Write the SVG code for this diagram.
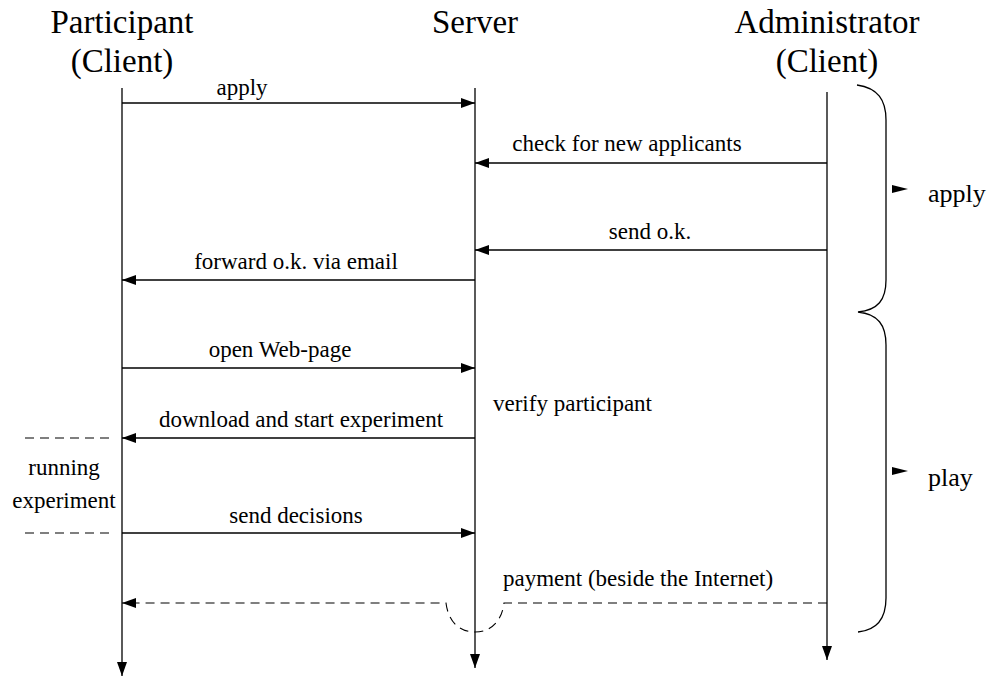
<svg xmlns="http://www.w3.org/2000/svg" width="989" height="677" viewBox="0 0 989 677">
<defs>
<style>
.t{font-family:"Liberation Serif","Times New Roman",serif;fill:#000}
.title{font-size:33px;text-anchor:middle}
.lbl{font-size:23px}
.side{font-size:26px}
.mid{text-anchor:middle}
.ln{stroke:#000;stroke-width:1.3;fill:none}
.ds{stroke:#000;stroke-width:1.1;fill:none;stroke-dasharray:9,6}
</style>
<marker id="ah" viewBox="0 0 14 10" refX="14" refY="5" markerWidth="14" markerHeight="10" markerUnits="userSpaceOnUse" orient="auto">
<path d="M0,0 L14,5 L0,10 Z" fill="#000"/>
</marker>
</defs>
<rect width="989" height="677" fill="#fff"/>
<g id="participant">
<text class="t title" x="122" y="33">Participant</text>
<text class="t title" x="122" y="72">(Client)</text>
<line class="ln" x1="122" y1="88" x2="122" y2="676" marker-end="url(#ah)"/>
</g>
<g id="server">
<text class="t title" x="475" y="33">Server</text>
<line class="ln" x1="475" y1="88" x2="475" y2="668" marker-end="url(#ah)"/>
</g>
<g id="administrator">
<text class="t title" x="827" y="33">Administrator</text>
<text class="t title" x="827" y="72">(Client)</text>
<line class="ln" x1="827" y1="92" x2="827" y2="660" marker-end="url(#ah)"/>
</g>
<g id="running">
<line class="ds" x1="25" y1="438" x2="112" y2="438"/>
<line class="ds" x1="25" y1="533" x2="112" y2="533"/>
<text class="t lbl mid" x="64" y="475">running</text>
<text class="t lbl mid" x="64" y="508">experiment</text>
</g>
<g id="phases">
<path class="ln" d="M857,85 C878,88 886,100 886,120 L886,280 C886,300 878,310 858,312 C878,314 886,325 886,345 L886,598 C886,618 878,630 858,632"/>
<path d="M892,185 L908,189 L892,193 Z" fill="#000"/>
<path d="M892,467 L908,471 L892,475 Z" fill="#000"/>
<text class="t side" x="928" y="202">apply</text>
<text class="t side" x="928" y="486">play</text>
</g>
<g id="connectors">
<line class="ln" x1="122" y1="103" x2="475" y2="103" marker-end="url(#ah)"/>
<text class="t lbl mid" x="242" y="95">apply</text>
<line class="ln" x1="827" y1="163" x2="475" y2="163" marker-end="url(#ah)"/>
<text class="t lbl mid" x="627" y="151">check for new applicants</text>
<line class="ln" x1="827" y1="250" x2="475" y2="250" marker-end="url(#ah)"/>
<text class="t lbl mid" x="650" y="239">send o.k.</text>
<line class="ln" x1="475" y1="280" x2="122" y2="280" marker-end="url(#ah)"/>
<text class="t lbl mid" x="296" y="269">forward o.k. via email</text>
<line class="ln" x1="122" y1="368" x2="475" y2="368" marker-end="url(#ah)"/>
<text class="t lbl mid" x="280" y="357">open Web-page</text>
<text class="t lbl" x="493" y="411">verify participant</text>
<line class="ln" x1="475" y1="438" x2="122" y2="438" marker-end="url(#ah)"/>
<text class="t lbl mid" x="301" y="427">download and start experiment</text>
<line class="ln" x1="122" y1="533" x2="475" y2="533" marker-end="url(#ah)"/>
<text class="t lbl mid" x="296" y="523">send decisions</text>
<path class="ds" d="M827,603 L504,603 C502,620 492,632 475,632 C458,632 448,620 446,603 L122,603" marker-end="url(#ah)"/>
<text class="t lbl" x="503" y="586">payment (beside the Internet)</text>
</g>
</svg>
